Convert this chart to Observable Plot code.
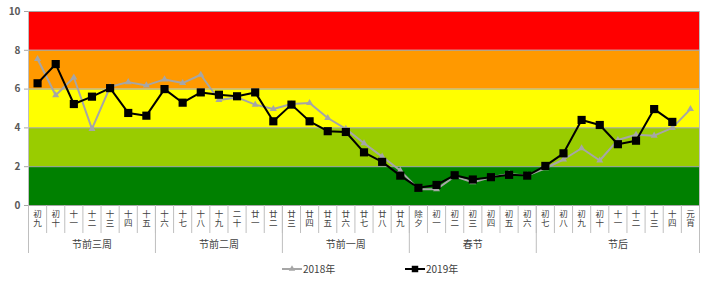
<!DOCTYPE html>
<html>
<head>
<meta charset="utf-8">
<script src="https://cdn.jsdelivr.net/npm/d3@7"></script>
<script src="https://cdn.jsdelivr.net/npm/@observablehq/plot@0.6"></script>
<style>
  html, body { margin: 0; padding: 0; background: #fff; }
  body { width: 720px; height: 281px; overflow: hidden; font-family: "Noto Sans CJK SC", "Noto Sans", sans-serif; }
  #legend { position: relative; height: 23px; font-size: 10px; color: #404040; }
  .item { position: absolute; top: 3px; display: flex; align-items: center; }
  .item svg { display: block; }
</style>
</head>
<body>
<div id="chart"></div>
<div id="legend"></div>
<script>
const labels = ["初九","初十","十一","十二","十三","十四","十五","十六","十七","十八","十九","二十","廿一","廿二","廿三","廿四","廿五","廿六","廿七","廿八","廿九","除夕","初一","初二","初三","初四","初五","初六","初七","初八","初九","初十","十一","十二","十三","十四","元宵"];
const groups = ["节前三周","节前二周","节前一周","春节","节后"];
const groupSizes = [7, 7, 7, 7, 9];
const v2018 = [7.55,5.68,6.6,3.95,6.12,6.36,6.19,6.5,6.31,6.74,5.44,5.57,5.2,4.97,5.23,5.28,4.51,3.95,3.21,2.52,1.80,0.84,0.84,1.5,1.2,1.46,1.63,1.54,1.92,2.37,2.95,2.32,3.38,3.65,3.6,4.0,4.97];
const v2019 = [6.30,7.29,5.23,5.61,6.05,4.77,4.63,6.0,5.30,5.83,5.71,5.63,5.83,4.34,5.2,4.34,3.83,3.79,2.74,2.25,1.54,0.91,1.06,1.56,1.34,1.46,1.58,1.54,2.04,2.69,4.41,4.15,3.16,3.34,4.97,4.31,null];
const bandLo = [0, 2, 4, 6, 8];
const bandHi = [2, 4, 6, 8, 10];
const bandColors = ["#008000", "#99CC00", "#FFFF00", "#FF9900", "#FF0000"];
const yTicks = [0, 2, 4, 6, 8, 10];
const seriesNames = ["2018年", "2019年"];

const bands = bandLo.map((lo, i) => ({lo, hi: bandHi[i], color: bandColors[i]}));
const d18 = v2018.map((v, i) => ({x: i + 0.5, y: v}));
const d19 = v2019.map((v, i) => ({x: i + 0.5, y: v})).filter(d => d.y != null);
const n = labels.length;
const centers = labels.map((_, i) => i + 0.5);
const bounds = [0];
groupSizes.forEach(s => bounds.push(bounds[bounds.length - 1] + s));
const groupCenters = groupSizes.map((s, i) => bounds[i] + s / 2);

const chart = Plot.plot({
  width: 720,
  height: 258,
  marginLeft: 28,
  marginRight: 21,
  marginTop: 11,
  marginBottom: 53,
  style: {fontFamily: "'Noto Sans CJK SC', 'Noto Sans', sans-serif", background: "#fff"},
  x: {domain: [0, n], axis: null, label: null},
  y: {domain: [0, 10], axis: null, label: null},
  color: {type: "identity"},
  marks: [
    Plot.rectY(bands, {y1: "lo", y2: "hi", fill: "color"}),
    Plot.ruleY(yTicks, {stroke: "#a6a6a6", strokeWidth: 1}),
    Plot.ruleX([0, n], {stroke: "#bfbfbf"}),
    Plot.axisY({ticks: yTicks, label: null, tickSize: 4, tickPadding: 4, fontSize: 10, fontWeight: "bold", fill: "#595959", stroke: "#a6a6a6"}),
    Plot.axisX({ticks: d3.range(0, n + 1), label: null, tickSize: 28, tickFormat: () => "", stroke: "#bfbfbf"}),
    Plot.axisX({ticks: bounds, label: null, tickSize: 48, tickFormat: () => "", stroke: "#bfbfbf"}),
    Plot.axisX({ticks: centers, label: null, tickSize: 0, tickPadding: 6, fontSize: 8.5, lineHeight: 0.98, fill: "#404040",
      tickFormat: v => labels[Math.floor(v)].split("").join("\n")}),
    Plot.axisX({ticks: groupCenters, label: null, tickSize: 0, tickPadding: 35.5, fontSize: 10, fill: "#404040",
      tickFormat: v => groups[groupCenters.indexOf(v)]}),
    Plot.line(d18, {x: "x", y: "y", stroke: "#a6a6a6", strokeWidth: 2}),
    Plot.dot(d18, {x: "x", y: "y", symbol: "triangle", r: 2.6, fill: "#a6a6a6"}),
    Plot.line(d19, {x: "x", y: "y", stroke: "#000", strokeWidth: 2}),
    Plot.dot(d19, {x: "x", y: "y", symbol: "square", r: 4.6, fill: "#000"})
  ]
});
document.getElementById("chart").appendChild(chart);

// legend
const legend = document.getElementById("legend");
const legendDefs = [
  {name: seriesNames[0], left: 282, color: "#a6a6a6", sym: d3.symbolTriangle, size: 18, w: 2},
  {name: seriesNames[1], left: 405, color: "#000", sym: d3.symbolSquare, size: 42, w: 2}
];
legendDefs.forEach(d => {
  const item = document.createElement("div");
  item.className = "item";
  item.style.left = d.left + "px";
  const svg = d3.create("svg").attr("width", 20).attr("height", 14);
  svg.append("line").attr("x1", 0).attr("x2", 20).attr("y1", 7).attr("y2", 7).attr("stroke", d.color).attr("stroke-width", d.w);
  svg.append("path").attr("d", d3.symbol(d.sym, d.size)()).attr("transform", "translate(10,7)").attr("fill", d.color);
  item.appendChild(svg.node());
  const span = document.createElement("span");
  span.textContent = d.name;
  span.style.marginLeft = "1px";
  item.appendChild(span);
  legend.appendChild(item);
});
</script>
</body>
</html>
